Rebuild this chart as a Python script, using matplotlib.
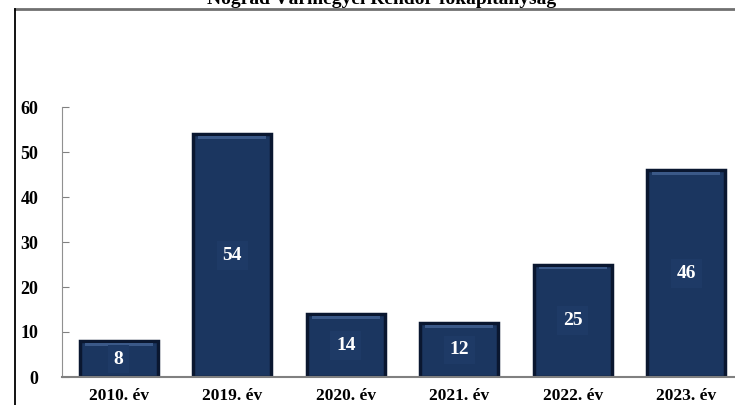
import numpy as np
import matplotlib.pyplot as plt
from matplotlib.lines import Line2D

categories = ['2010. év', '2019. év', '2020. év', '2021. év', '2022. év', '2023. év']
values = [8, 54, 14, 12, 25, 46]
title = 'Nógrád Vármegyei Rendőr-főkapitányság'

plt.rcParams['font.family'] = ['Liberation Serif', 'DejaVu Serif']
plt.rcParams['font.weight'] = 'bold'

fig = plt.figure(figsize=(7.35, 4.05), dpi=100)
ax = fig.add_axes([62/735, 28/405, 681/735, 270/405])

x = np.arange(len(categories))
bar_color = '#1b3660'
ax.bar(x, values, width=0.69, color=bar_color, edgecolor='#0a1730', linewidth=2.5, zorder=2)
# light bevel along the top of each bar
ax.bar(x, [0.6] * len(values), bottom=np.array(values) - 1.1, width=0.6,
       color='#3b5988', linewidth=0, zorder=3)

for xi, v in zip(x, values):
    ax.text(xi, v / 2, str(v), ha='center', va='center', color='white',
            fontsize=14, fontweight='bold', zorder=4,
            bbox=dict(boxstyle='square,pad=0.3', facecolor='#1e3a66', edgecolor='none'))

ax.set_xlim(-0.5, 5.5)
ax.set_ylim(0, 60)
ax.set_yticks([0, 10, 20, 30, 40, 50, 60])
ax.set_xticks(x)
ax.set_xticklabels(categories)
ax.tick_params(axis='y', direction='in', length=5, color='#808080', pad=17, labelsize=13)
ax.tick_params(axis='x', length=0, pad=8, labelsize=12.5)
for lbl in ax.get_xticklabels() + ax.get_yticklabels():
    lbl.set_fontweight('bold')

for side in ['top', 'right']:
    ax.spines[side].set_visible(False)
ax.spines['left'].set_color('#909090')
ax.spines['bottom'].set_color('#808080')
ax.spines['bottom'].set_linewidth(1.5)

# outer frame: gray top rule and black left rule
fig.add_artist(Line2D([15/735, 1], [1 - 8.5/405] * 2, color='#707070', linewidth=2))
fig.add_artist(Line2D([15/735] * 2, [0, 1 - 8.5/405], color='black', linewidth=1.3))

fig.text(382/735, 1 - 4.5/405, title, ha='center', va='baseline',
         fontsize=14, fontweight='bold')

fig.savefig('out.png', dpi=100)
